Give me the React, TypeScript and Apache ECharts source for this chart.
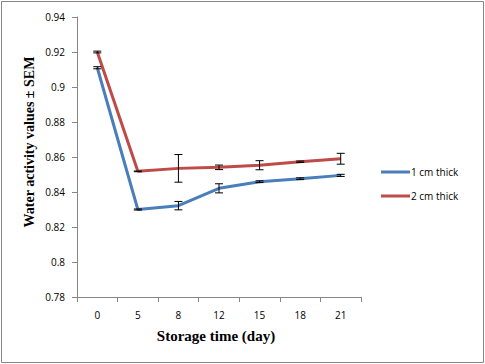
import React, { useEffect, useRef } from "react";
import * as echarts from "echarts";

const categories = ["0", "5", "8", "12", "15", "18", "21"];
const thick1 = [0.911, 0.830, 0.8322, 0.8421, 0.8459, 0.8476, 0.8495];
const thick1Err = [0.0006, 0.0003, 0.0024, 0.0026, 0.0005, 0.0005, 0.0006];
const thick2 = [0.920, 0.8518, 0.8535, 0.8541, 0.8553, 0.8573, 0.859];
const thick2Err = [0.0005, 0.0002, 0.0079, 0.0013, 0.0026, 0.0004, 0.0031];
const seriesNames = ["1 cm thick", "2 cm thick"];
const colors = ["#4A7EBB", "#BE4B48"];

export default function App() {
  const ref = useRef<HTMLDivElement>(null);
  useEffect(() => {
    document.body.style.margin = "0";
    const chart = echarts.init(ref.current!, null, { renderer: "svg" });
    const errData = (vals: number[], errs: number[]) =>
      vals.map((v, i) => [i, v - errs[i], v + errs[i]]);
    const errSeries = (vals: number[], errs: number[]) => ({
      type: "custom",
      data: errData(vals, errs),
      z: 5,
      silent: true,
      renderItem: (params: any, api: any) => {
        const x = api.value(0);
        const lo = api.coord([x, api.value(1)]);
        const hi = api.coord([x, api.value(2)]);
        const w = 4;
        const style = { stroke: "#000", lineWidth: 1 };
        return {
          type: "group",
          children: [
            { type: "line", shape: { x1: lo[0], y1: lo[1], x2: hi[0], y2: hi[1] }, style },
            { type: "line", shape: { x1: lo[0] - w, y1: lo[1], x2: lo[0] + w, y2: lo[1] }, style },
            { type: "line", shape: { x1: hi[0] - w, y1: hi[1], x2: hi[0] + w, y2: hi[1] }, style },
          ],
        };
      },
    });
    chart.setOption({
      animation: false,
      grid: { left: 77, top: 17, right: 124, bottom: 67, containLabel: false },
      legend: {
        orient: "vertical",
        left: 376,
        top: 162,
        itemWidth: 29,
        itemHeight: 3,
        itemGap: 14,
        icon: "rect",
        data: seriesNames,
        textStyle: { fontFamily: "Open Sans", fontSize: 10, color: "#000", padding: [0, 0, 0, -4] },
      },
      xAxis: {
        type: "category",
        data: categories,
        boundaryGap: true,
        axisLine: { lineStyle: { color: "#868686", width: 1 } },
        axisTick: { show: true, interval: 0, alignWithLabel: false, length: 5, lineStyle: { color: "#868686" } },
        axisLabel: { fontFamily: "Open Sans", fontSize: 10, color: "#000", margin: 13 },
        splitLine: { show: false },
      },
      yAxis: {
        type: "value",
        min: 0.78,
        max: 0.94,
        interval: 0.02,
        axisLine: { show: true, lineStyle: { color: "#868686", width: 1 } },
        axisTick: { show: true, length: 5, lineStyle: { color: "#868686" } },
        axisLabel: { fontFamily: "Open Sans", fontSize: 10, color: "#000", margin: 12 },
        splitLine: { show: false },
      },
      graphic: [
        {
          type: "rect",
          shape: { x: 1.5, y: 1.5, width: 482, height: 361 },
          style: { fill: "none", stroke: "#868686", lineWidth: 1 },
          silent: true,
        },
        {
          type: "text",
          x: 29,
          y: 142,
          rotation: Math.PI / 2,
          style: {
            text: "Water activity values \u00B1 SEM",
            fontFamily: "Liberation Serif",
            fontWeight: "bold",
            fontSize: 14,
            fill: "#000",
            align: "center",
            verticalAlign: "middle",
          },
        },
        {
          type: "text",
          x: 216,
          y: 336,
          style: {
            text: "Storage time (day)",
            fontFamily: "Liberation Serif",
            fontWeight: "bold",
            fontSize: 15,
            fill: "#000",
            align: "center",
            verticalAlign: "middle",
          },
        },
      ],
      series: [
        {
          name: seriesNames[0],
          type: "line",
          data: thick1,
          symbol: "none",
          smooth: false,
          lineStyle: { color: colors[0], width: 3 },
          itemStyle: { color: colors[0] },
          z: 3,
        },
        {
          name: seriesNames[1],
          type: "line",
          data: thick2,
          symbol: "none",
          smooth: false,
          lineStyle: { color: colors[1], width: 3 },
          itemStyle: { color: colors[1] },
          z: 3,
        },
        errSeries(thick1, thick1Err),
        errSeries(thick2, thick2Err),
      ],
    });
    return () => chart.dispose();
  }, []);
  return <div ref={ref} style={{ width: 485, height: 364, background: "#fff" }} />;
}
